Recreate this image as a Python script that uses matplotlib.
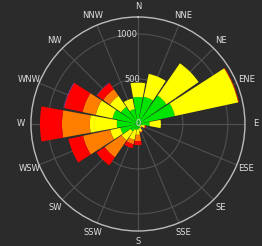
import numpy as np
import matplotlib
matplotlib.use("Agg")
import matplotlib.pyplot as plt

directions = ["N", "NNE", "NE", "ENE", "E", "ESE", "SE", "SSE",
              "S", "SSW", "SW", "WSW", "W", "WNW", "NW", "NNW"]
# per-band counts (stacked)
green  = [300, 310, 385, 420, 130, 40, 30, 50, 60, 70, 100, 200, 235, 290, 230, 170]
yellow = [160, 260, 435, 720, 125, 40, 20, 40, 60, 110, 120, 115, 300, 190, 150, 120]
orange = [0, 0, 0, 5, 0, 5, 0, 5, 70, 50, 230, 310, 310, 150, 90, 0]
red    = [0, 0, 0, 5, 0, 10, 5, 5, 45, 45, 110, 165, 245, 210, 85, 0]
purple = [0, 0, 0, 0, 0, 0, 0, 0, 0, 0, 0, 0, 0, 8, 5, 0]
r_ticks = [0, 500, 1000]
r_max = 1190

bands = [green, yellow, orange, red, purple]
colors = ["#00e400", "#ffff00", "#ff7e00", "#ff0000", "#8f3f97"]
bg = "#2b2b2b"

fig = plt.figure(figsize=(2.62, 2.46), dpi=100, facecolor=bg)
ax = fig.add_axes([0.118, 0.061, 0.817, 0.870], projection="polar", facecolor=bg)
ax.set_theta_zero_location("N")
ax.set_theta_direction(-1)

n = len(directions)
theta = np.arange(n) * 2 * np.pi / n
width = 2 * np.pi / n * 0.92
bottom = np.zeros(n)
for vals, c in zip(bands, colors):
    v = np.array(vals, dtype=float)
    ax.bar(theta, v, width=width, bottom=bottom, color=c, edgecolor="none",
           linewidth=0, zorder=3)
    bottom += v

ax.set_ylim(0, r_max)
ax.set_yticks(r_ticks)
ax.set_yticklabels([])
lab_theta = np.deg2rad(-7)
for t in r_ticks:
    ax.text(lab_theta, t, str(t), color="#dddddd", fontsize=6,
            ha="center", va="center", zorder=6)
ax.set_xticks(theta)
ax.set_xticklabels(directions, color="#e0e0e0", fontsize=6)
ax.tick_params(axis="x", length=0, pad=0.5)
ax.grid(True, color="#505050", linewidth=0.8)
ax.spines["polar"].set_color("#bbbbbb")
ax.spines["polar"].set_linewidth(1.0)

fig.savefig("out.png", dpi=100, facecolor=bg)
